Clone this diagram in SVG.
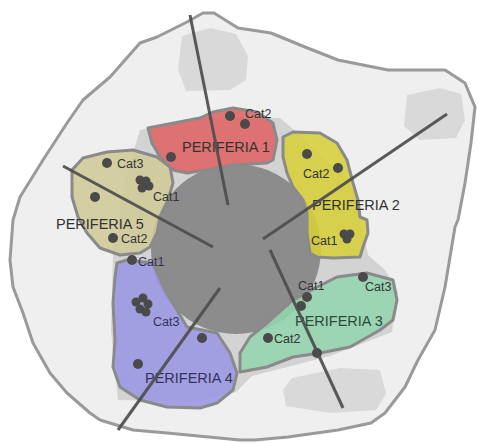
<svg xmlns="http://www.w3.org/2000/svg" width="478" height="443" viewBox="0 0 478 443">
<style>
.shadow{fill:#d9d9d9;stroke:none}
.per{stroke:#8a8a8a;stroke-width:3;stroke-linejoin:round;fill-opacity:0.88}
.dot{fill:#4a4a4a}
.lbl{font-family:"Liberation Sans","DejaVu Sans",sans-serif;font-size:12.5px;fill:#333333}
.big{font-family:"Liberation Sans","DejaVu Sans",sans-serif;font-size:14.5px;fill:#333333}
.ray{stroke:#4d4d4d;stroke-width:3;stroke-linecap:butt;fill:none;opacity:0.92}
</style>
<rect width="478" height="443" fill="#ffffff"/>
<g id="outer">
<path d="M203,13 L214,13 L238,28 L271,33 L305,47 L338,60 L388,70 L445,70 L465,83 L475,107 L471,143 L465,183 L458,220 L455,227 L445,287 L435,330 L418,360 L405,387 L385,413 L371,423 L338,430 L288,437 L255,440 L240,440 L167,433 L133,430 L100,420 L90,413 L67,393 L50,373 L33,343 L23,313 L13,287 L10,260 L13,220 L20,197 L43,160 L67,123 L83,100 L110,77 L140,43 L157,37 L187,22 Z" fill="#efefef" stroke="#9a9a9a" stroke-width="3" stroke-linejoin="round"/>
<path class="shadow" d="M182,36 L210,28 L236,34 L248,56 L246,80 L230,90 L186,91 L178,70 Z"/>
<path class="shadow" d="M407,95 L440,88 L461,94 L465,120 L456,138 L420,140 L404,126 Z"/>
<path class="shadow" d="M292,378 L340,368 L380,370 L386,394 L376,410 L330,413 L286,406 L283,390 Z"/>
<path d="M140,130 L200,118 L280,118 L300,135 L352,185 L368,255 L385,270 L398,292 L392,332 L330,356 L252,376 L236,392 L200,402 L118,400 L111,330 L113,255 L125,180 Z" fill="#d3d3d3"/>
</g>
<g id="core">
<circle cx="236" cy="249" r="85" fill="#8c8c8c"/>
</g>
<g id="periferia-1">
<path class="per" fill="#df6464" d="M148,128 L200,118 L213,112 L233,108 L257,112 L273,123 L277,140 L273,160 L267,163 L233,165 L207,170 L187,173 L173,170 L160,157 L152,143 Z"/>
<circle class="dot" cx="230" cy="116" r="5"/>
<circle class="dot" cx="245" cy="124" r="5"/>
<circle class="dot" cx="171" cy="157" r="5"/>
<text class="lbl" x="245" y="118">Cat2</text>
<text class="big" x="182" y="152">PERIFERIA 1</text>
</g>
<g id="periferia-2">
<path class="per" fill="#d6cf3a" d="M283,137 L293,132 L320,133 L337,143 L347,160 L353,183 L358,200 L360,217 L367,220 L368,233 L363,247 L360,257 L333,258 L317,257 L310,253 L307,233 L307,213 L303,200 L293,187 L287,173 L283,157 Z"/>
<circle class="dot" cx="307" cy="154" r="5"/>
<circle class="dot" cx="338" cy="168" r="5"/>
<circle class="dot" cx="344" cy="234" r="4.5"/>
<circle class="dot" cx="350" cy="234" r="4.5"/>
<circle class="dot" cx="347" cy="239" r="4.5"/>
<text class="lbl" x="303" y="178">Cat2</text>
<text class="big" x="312" y="210">PERIFERIA 2</text>
<text class="lbl" x="311" y="245">Cat1</text>
</g>
<g id="periferia-5">
<path class="per" fill="#cfcb98" d="M72,170 L83,158 L107,152 L133,150 L157,157 L170,167 L173,183 L168,200 L160,217 L157,233 L150,247 L140,253 L120,255 L100,248 L87,233 L78,217 L72,197 Z"/>
<circle class="dot" cx="107" cy="163" r="5"/>
<circle class="dot" cx="140" cy="180" r="4.5"/>
<circle class="dot" cx="146" cy="181" r="4.5"/>
<circle class="dot" cx="149" cy="186" r="4.5"/>
<circle class="dot" cx="142" cy="188" r="4.5"/>
<circle class="dot" cx="95" cy="197" r="5"/>
<circle class="dot" cx="113" cy="238" r="5"/>
<text class="lbl" x="117" y="168">Cat3</text>
<text class="lbl" x="153" y="201">Cat1</text>
<text class="big" x="56" y="229">PERIFERIA 5</text>
<text class="lbl" x="121" y="243">Cat2</text>
</g>
<g id="periferia-4">
<path class="per" fill="#9a97e4" fill-opacity="0.85" d="M115,277 L117,263 L127,260 L153,263 L165,290 L187,327 L217,333 L230,353 L237,373 L233,390 L217,403 L200,408 L167,407 L140,400 L120,387 L113,367 L115,340 L113,303 Z"/>
<circle class="dot" cx="132" cy="260" r="5"/>
<circle class="dot" cx="136" cy="302" r="4.5"/>
<circle class="dot" cx="143" cy="298" r="4.5"/>
<circle class="dot" cx="148" cy="304" r="4.5"/>
<circle class="dot" cx="140" cy="309" r="4.5"/>
<circle class="dot" cx="146" cy="312" r="4.5"/>
<circle class="dot" cx="202" cy="338" r="5"/>
<circle class="dot" cx="138" cy="364" r="5"/>
<text class="lbl" x="138" y="266" style="fill:#33335a">Cat1</text>
<text class="lbl" x="153" y="326" style="fill:#33335a">Cat3</text>
<text class="big" x="145" y="383" style="fill:#33335a">PERIFERIA 4</text>
</g>
<g id="periferia-3">
<path class="per" fill="#93d5ae" d="M240,353 L250,337 L267,323 L293,300 L317,287 L337,277 L367,273 L393,280 L397,300 L393,320 L380,330 L350,347 L320,353 L293,357 L267,367 L240,372 Z"/>
<circle class="dot" cx="363" cy="277" r="5"/>
<circle class="dot" cx="307" cy="297" r="5"/>
<circle class="dot" cx="301" cy="306" r="5"/>
<circle class="dot" cx="268" cy="338" r="5"/>
<circle class="dot" cx="317" cy="353" r="5"/>
<text class="lbl" x="298" y="290">Cat1</text>
<text class="lbl" x="365" y="291">Cat3</text>
<text class="big" x="295" y="326" style="fill:#2f4a3a">PERIFERIA 3</text>
<text class="lbl" x="274" y="343">Cat2</text>
</g>
<g id="connectors">
<line class="ray" x1="190" y1="15" x2="228" y2="205"/>
<line class="ray" x1="447" y1="114" x2="263" y2="239"/>
<line class="ray" x1="270" y1="250" x2="343" y2="408"/>
<line class="ray" x1="220" y1="288" x2="118" y2="430"/>
<line class="ray" x1="63" y1="166" x2="213" y2="247"/>
</g>
</svg>
